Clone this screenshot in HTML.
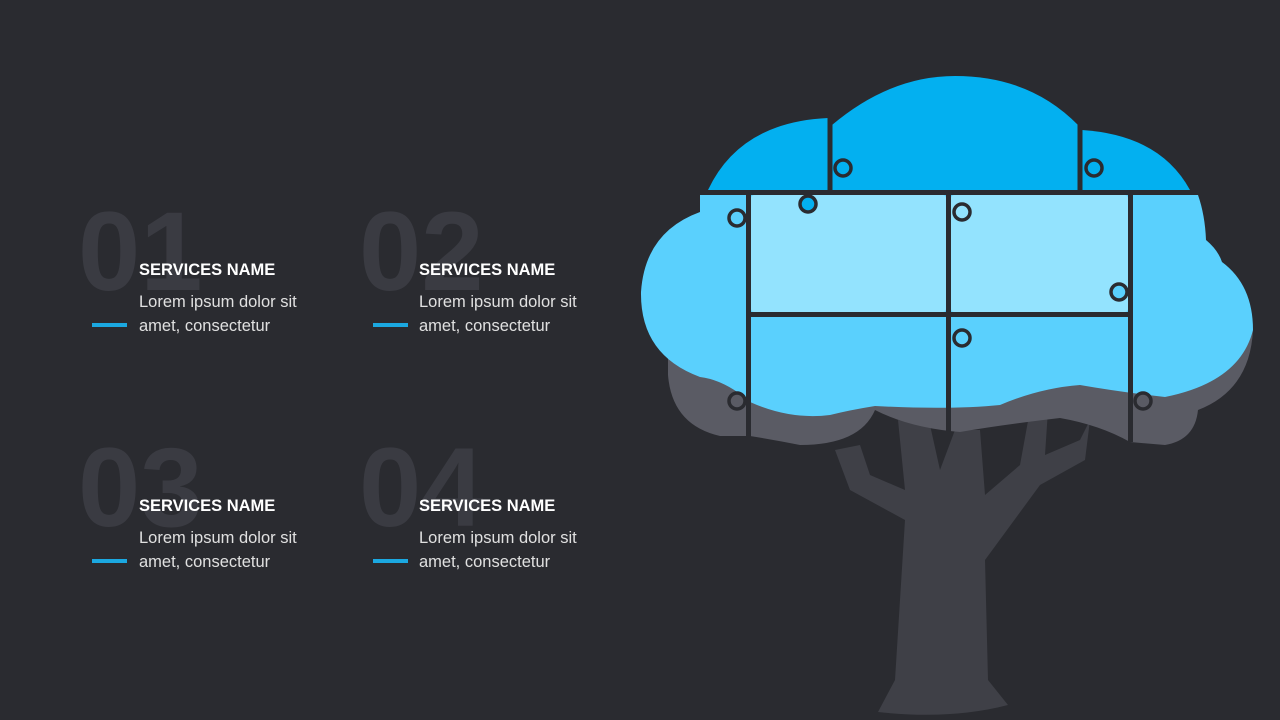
<!DOCTYPE html>
<html><head><style>
body{margin:0;background:#2a2b30;width:1280px;height:720px;overflow:hidden}
svg{display:block}
.n{font-family:"Liberation Sans",sans-serif;font-weight:bold;font-size:112px;fill:#3a3b42}
.t{font-family:"Liberation Sans",sans-serif;font-weight:bold;font-size:16.5px;fill:#fff}
.b{font-family:"Liberation Sans",sans-serif;font-size:16.5px;fill:#e0e0e0}
</style></head><body>
<svg width="1280" height="720" viewBox="0 0 1280 720">
<rect width="1280" height="720" fill="#2a2b30"/>
<g>
<text class="n" x="78" y="290">01</text><text class="t" x="139" y="275">SERVICES NAME</text>
<text class="b" x="139" y="307">Lorem ipsum dolor sit</text><text class="b" x="139" y="331">amet, consectetur</text>
<rect x="92" y="323" width="35" height="4" fill="#1ba8e0"/>
<text class="n" x="359" y="290">02</text><text class="t" x="419" y="275">SERVICES NAME</text>
<text class="b" x="419" y="307">Lorem ipsum dolor sit</text><text class="b" x="419" y="331">amet, consectetur</text>
<rect x="373" y="323" width="35" height="4" fill="#1ba8e0"/>
<text class="n" x="78" y="526">03</text><text class="t" x="139" y="511">SERVICES NAME</text>
<text class="b" x="139" y="543">Lorem ipsum dolor sit</text><text class="b" x="139" y="567">amet, consectetur</text>
<rect x="92" y="559" width="35" height="4" fill="#1ba8e0"/>
<text class="n" x="359" y="526">04</text><text class="t" x="419" y="511">SERVICES NAME</text>
<text class="b" x="419" y="543">Lorem ipsum dolor sit</text><text class="b" x="419" y="567">amet, consectetur</text>
<rect x="373" y="559" width="35" height="4" fill="#1ba8e0"/>
</g>
<path d="M878,712 L895,680 L905,520 L850,490 L835,450 L860,445 L870,475 L905,490 L898,420 L930,425 L940,470 L955,430 L980,430 L985,495 L1020,465 L1030,410 L1048,410 L1045,455 L1080,440 L1090,420 L1085,460 L1040,485 L985,560 L988,680 L1008,705 Q950,720 878,712 Z" fill="#3f4047"/>
<path d="M668,340 L1253,330 Q1250,390 1198,410 Q1195,440 1165,445 L1130,442 Q1100,425 1060,418 Q1000,425 960,432 Q910,428 875,410 Q860,445 800,445 Q775,440 750,436 L720,436 Q672,425 668,375 Z" fill="#5a5b64"/>
<path d="M700,195 L1198,195 Q1205,215 1206,240 Q1218,250 1222,262 Q1253,285 1253,330 Q1240,382 1165,397 Q1120,392 1080,385 Q1040,388 1000,405 Q950,410 875,406 Q850,410 830,415 Q790,420 750,402 Q725,380 700,377 Q640,355 641,292 Q645,232 700,212 Z" fill="#5ad0fd"/>
<path d="M708,190 Q740,122 828,118 L828,190 Z" fill="#03b0f0"/>
<path d="M832,190 L832,125 Q890,76 955,76 Q1030,76 1078,125 L1078,190 Z" fill="#03b0f0"/>
<path d="M1082,190 L1082,130 Q1160,135 1190,190 Z" fill="#03b0f0"/>
<rect x="751" y="195" width="195" height="117" rx="3" fill="#93e3fe"/>
<rect x="951" y="195" width="177" height="117" rx="3" fill="#93e3fe"/>
<g stroke="#2a2b30" stroke-width="5" fill="none">
<line x1="700" y1="192.5" x2="1200" y2="192.5"/>
<line x1="830" y1="115" x2="830" y2="192"/>
<line x1="1080" y1="120" x2="1080" y2="192"/>
<line x1="748.5" y1="195" x2="748.5" y2="438"/>
<line x1="948.5" y1="195" x2="948.5" y2="434"/>
<line x1="1130.5" y1="195" x2="1130.5" y2="442"/>
<line x1="748" y1="314.5" x2="1130" y2="314.5"/>
</g>
<g stroke="#2a2b30" stroke-width="3.5">
<circle cx="843" cy="168" r="8" fill="#03b0f0"/>
<circle cx="1094" cy="168" r="8" fill="#03b0f0"/>
<circle cx="808" cy="204" r="8" fill="#03b0f0"/>
<circle cx="737" cy="218" r="8" fill="#5ad0fd"/>
<circle cx="962" cy="212" r="8" fill="#93e3fe"/>
<circle cx="1119" cy="292" r="8" fill="#5ad0fd"/>
<circle cx="962" cy="338" r="8" fill="#5ad0fd"/>
<circle cx="737" cy="401" r="8" fill="#5a5b64"/>
<circle cx="1143" cy="401" r="8" fill="#5a5b64"/>
</g>
</svg>
</body></html>
